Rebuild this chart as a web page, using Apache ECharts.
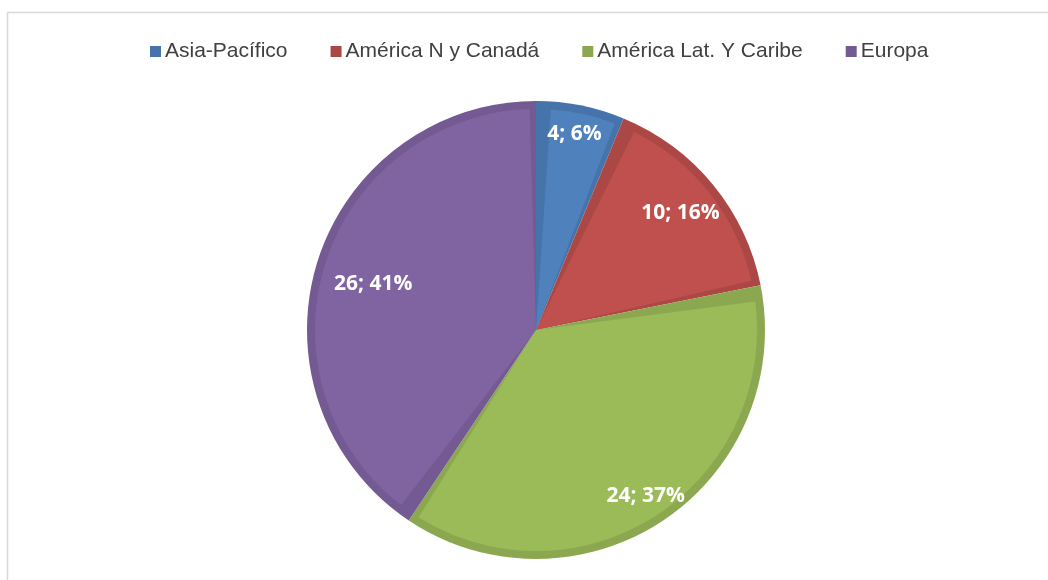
<!DOCTYPE html>
<html>
<head>
<meta charset="utf-8">
<script src="https://cdn.jsdelivr.net/npm/echarts@6/dist/echarts.min.js"></script>
<style>
  html, body { margin: 0; padding: 0; background: #fff; }
  #main { width: 1048px; height: 580px; }
</style>
</head>
<body>
<div id="main"></div>
<script>
// datos
const regiones = ['Asia-Pacífico', 'América N y Canadá', 'América Lat. Y Caribe', 'Europa']
const valores = [4, 10, 24, 26]
const porcentajes = [6, 16, 37, 41]

// colores tipo Excel (relleno y borde interior más oscuro)
const colores = ['#4F81BD', '#C0504D', '#9BBB59', '#8064A2']
const bordes = ['#4674AA', '#AB4845', '#8BA850', '#735A92']

const chart = echarts.init(document.getElementById('main'))

const centro = [536, 330]
const R = 229
const sep = 5.5 // separación angular del relleno (grados)

// pequeños desplazamientos de las etiquetas [dx, dy]
const ajusteEtiqueta = [
    [1, -8],
    [-4, 5],
    [3, 6],
    [21, 10]
]

const option = {
    animation: false,
    color: colores,
    // marco gris del área del gráfico
    graphic: [
        {
            type: 'rect',
            shape: { x: 7.5, y: 12.5, width: 1100, height: 700 },
            style: { fill: 'none', stroke: '#D9D9D9', lineWidth: 1.5 },
            silent: true
        }
    ],
    legend: {
        data: regiones,
        top: 36,
        left: 145,
        itemWidth: 11,
        itemHeight: 11,
        itemGap: 43,
        icon: 'rect',
        textStyle: {
            fontFamily: 'Liberation Sans',
            fontSize: 21,
            color: '#404040',
            padding: [0, 0, 0, -1]
        }
    },
    series: [
        {
            // fondo: borde oscuro
            name: 'borde',
            type: 'pie',
            center: centro,
            radius: R,
            startAngle: 90,
            clockwise: true,
            silent: true,
            label: { show: false },
            labelLine: { show: false },
            data: regiones.map((n, i) => ({
                name: n,
                value: valores[i],
                itemStyle: { color: bordes[i] }
            }))
        },
        {
            // relleno claro, un poco más pequeño y separado
            name: 'relleno',
            type: 'pie',
            center: centro,
            radius: R - 8,
            startAngle: 88.9,
            padAngle: sep,
            silent: true,
            label: { show: false },
            labelLine: { show: false },
            data: regiones.map((n, i) => ({
                name: n,
                value: valores[i],
                itemStyle: { color: colores[i] }
            }))
        },
        {
            // anillo transparente solo para las etiquetas
            name: 'etiquetas',
            type: 'pie',
            center: centro,
            radius: [150, 228],
            startAngle: 90,
            silent: true,
            itemStyle: { color: 'rgba(0,0,0,0)' },
            label: {
                show: true,
                position: 'inside',
                color: '#fff',
                fontFamily: 'Open Sans',
                fontWeight: 'bold',
                fontSize: 21,
                formatter: function (p) {
                    return valores[p.dataIndex] + '; ' + porcentajes[p.dataIndex] + '%'
                }
            },
            labelLayout: function (p) {
                const a = ajusteEtiqueta[p.dataIndex]
                return { dx: a[0], dy: a[1] }
            },
            labelLine: { show: false },
            data: regiones.map((n, i) => ({ name: n, value: valores[i] }))
        }
    ]
}

chart.setOption(option)
</script>
</body>
</html>
